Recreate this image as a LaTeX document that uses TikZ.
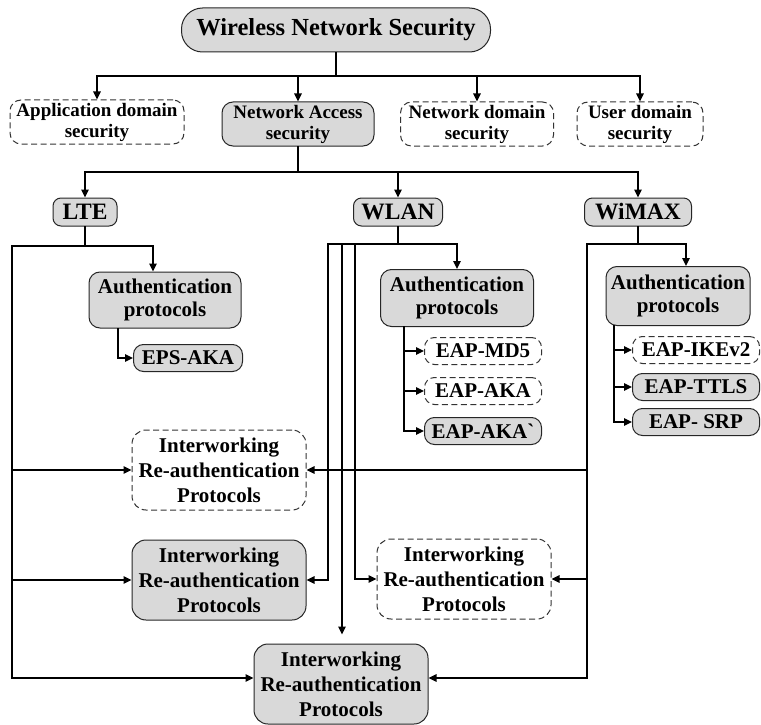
\documentclass[tikz,border=0pt]{standalone}
\usepackage{fontspec}
\setmainfont{Liberation Serif}
\usetikzlibrary{arrows.meta, positioning}
\definecolor{ink}{HTML}{000000}
\definecolor{boxfill}{HTML}{D9D9D9}
\definecolor{border}{HTML}{262626}
\definecolor{dashline}{HTML}{333333}
\tikzset{
  gbox/.style={rounded corners=11pt, draw=border, fill=boxfill, line width=1pt,
               align=center, inner sep=0pt, font=\fontsize{21}{23}\selectfont\bfseries, text=ink},
  dbox/.style={gbox, draw=dashline, fill=white, dash pattern=on 6pt off 3.5pt},
  tbox/.style={font=\fontsize{23.5}{26}\selectfont\bfseries},
  lvl/.style={font=\fontsize{19}{21}\selectfont\bfseries, minimum height=44pt},
  eap/.style={minimum width=117pt, minimum height=27pt, rounded corners=10pt},
  iw/.style={minimum width=174pt, minimum height=80pt, rounded corners=14pt,
             font=\fontsize{21}{25}\selectfont\bfseries},
  fl/.style={-{Triangle[length=8pt, width=7.5pt]}, line width=1.4pt, line cap=rect, draw=ink},
  ln/.style={line width=1.4pt, line cap=rect, draw=ink},
}

\begin{document}
\begin{tikzpicture}[x=1pt, y=-1pt]
  \useasboundingbox (0,0) rectangle (761,725);

  \node[gbox, tbox, font=\fontsize{24.5}{27}\selectfont\bfseries, rounded corners=21pt,
        minimum width=309pt, minimum height=44pt] (wns)
    at (336,30) {Wireless Network Security};

  \node[dbox, lvl, minimum width=174pt] (appsec) at (97,122) {Application domain\\security};
  \node[gbox, lvl, minimum width=152pt] (netacc) at (298,124) {Network Access\\security};
  \node[dbox, lvl, minimum width=153pt] (netdom) at (477,124) {Network domain\\security};
  \node[dbox, lvl, minimum width=126pt] (usrdom) at (640,124) {User domain\\security};

  \node[gbox, tbox, minimum width=64pt, minimum height=28pt, rounded corners=8pt] (lte) at (85,212) {LTE};
  \node[gbox, tbox, minimum width=89pt, minimum height=28pt, rounded corners=8pt] (wlan) at (398,212) {WLAN};
  \node[gbox, tbox, minimum width=107pt, minimum height=28pt, rounded corners=8pt] (wimax) at (638,212) {WiMAX};

  % authentication protocols
  \node[gbox, minimum width=152pt, minimum height=56pt] (lteauth) at (165,300) {Authentication\\protocols};
  \node[gbox, eap, minimum width=109pt] (epsaka) at (188,358) {EPS-AKA};

  \node[gbox, minimum width=153pt, minimum height=57pt] (wlanauth) at (457,298) {Authentication\\protocols};
  \node[dbox, eap] (md5) at (483,351) {EAP-MD5};
  \node[dbox, eap, below=12pt of md5] (aka) {EAP-AKA};
  \node[gbox, eap, below=12pt of aka] (akap) {EAP-AKA\textasciigrave};

  \node[gbox, minimum width=144pt, minimum height=59pt] (wimaxauth) at (678,296) {Authentication\\protocols};
  \node[dbox, eap, minimum width=127pt] (ikev2) at (696,350) {EAP-IKEv2};
  \node[gbox, eap, minimum width=127pt, below=9pt of ikev2] (ttls) {EAP-TTLS};
  \node[gbox, eap, minimum width=127pt, below=7pt of ttls] (srp) {EAP- SRP};

  % interworking re-authentication
  \node[dbox, iw] (iw1) at (219,470) {Interworking\\Re-authentication\\Protocols};
  \node[gbox, iw] (iw2) at (219,580) {Interworking\\Re-authentication\\Protocols};
  \node[dbox, iw] (iw3) at (464,579) {Interworking\\Re-authentication\\Protocols};
  \node[gbox, iw] (iw4) at (341,684) {Interworking\\Re-authentication\\Protocols};

  % top buses
  \coordinate (topbus) at (338,76);
  \draw[ln] (wns.south) -- (wns.south |- topbus);
  \draw[ln] (appsec.north |- topbus) -- (usrdom.north |- topbus);
  \foreach \n in {appsec, netacc, netdom, usrdom}
    \draw[fl] (\n.north |- topbus) -- (\n.north);

  \coordinate (midbus) at (296,172);
  \draw[ln] (netacc.south) -- (netacc.south |- midbus);
  \draw[ln] (lte.north |- midbus) -- (wimax.north |- midbus);
  \foreach \n in {lte, wlan, wimax}
    \draw[fl] (\n.north |- midbus) -- (\n.north);

  % LTE
  \coordinate (ltebus) at (12,246);
  \draw[ln] (lte.south) -- (lte.south |- ltebus);
  \draw[fl] (ltebus) -| ([xshift=-12pt]lteauth.north);
  \draw[fl] (ltebus) |- ([yshift=6pt]iw4.west);
  \draw[fl] (ltebus |- iw1.west) -- (iw1.west);
  \draw[fl] (ltebus |- iw2.west) -- (iw2.west);
  \draw[fl] ([xshift=-47pt]lteauth.south) |- (epsaka.west);

  % WLAN
  \coordinate (wlanbus) at (328,244);
  \draw[ln] (wlan.south) -- (wlan.south |- wlanbus);
  \draw[fl] (wlanbus) -| (wlanauth.north);
  \draw[fl] (wlanbus) |- (iw2.east);
  \draw[fl, shorten >=9pt] ([xshift=14pt]wlanbus) -- ([xshift=14pt]wlanbus |- iw4.north);
  \draw[fl] ([xshift=27pt]wlanbus) |- (iw3.west);
  \coordinate (wlanv) at ([xshift=-53pt]wlanauth.south);
  \draw[fl] (wlanv) |- (akap.west);
  \foreach \n in {md5, aka}
    \draw[fl] (wlanv |- \n.west) -- (\n.west);

  % WiMAX
  \coordinate (wimaxbus) at (587,244);
  \draw[ln] (wimax.south) -- (wimax.south |- wimaxbus);
  \draw[fl] (wimaxbus) -| ([xshift=8pt]wimaxauth.north);
  \draw[fl] (wimaxbus) |- ([yshift=6pt]iw4.east);
  \draw[fl] (wimaxbus |- iw1.east) -- (iw1.east);
  \draw[fl] (wimaxbus |- iw3.east) -- (iw3.east);
  \coordinate (wimaxv) at ([xshift=-64pt]wimaxauth.south);
  \draw[fl] (wimaxv) |- (srp.west);
  \foreach \n in {ikev2, ttls}
    \draw[fl] (wimaxv |- \n.west) -- (\n.west);
\end{tikzpicture}
\end{document}
